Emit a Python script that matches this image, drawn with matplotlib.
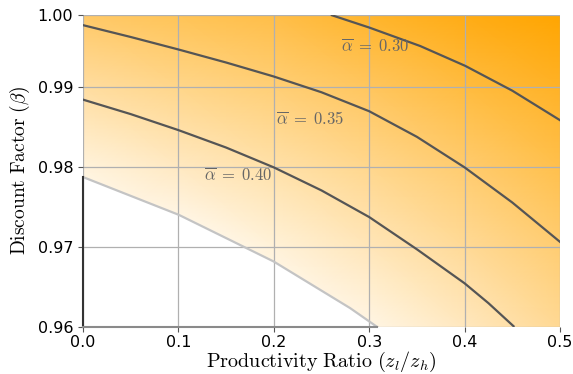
import numpy as np
import matplotlib
matplotlib.use("Agg")
import matplotlib.pyplot as plt
from matplotlib.colors import LinearSegmentedColormap, Normalize

plt.rcParams['mathtext.fontset'] = 'cm'

# grid of alpha-bar values
z_ratio = [0.0, 0.1, 0.2, 0.3, 0.4, 0.5]
beta = [0.96, 0.97, 0.98, 0.99, 0.999]
alpha_bar = [
    [0.547, 0.516, 0.485, 0.452, 0.419, 0.382],
    [0.495, 0.469, 0.442, 0.414, 0.384, 0.352],
    [0.444, 0.422, 0.400, 0.376, 0.350, 0.319],
    [0.392, 0.373, 0.356, 0.335, 0.309, 0.286],
    [0.343, 0.329, 0.316, 0.292, 0.272, 0.253],
]

# contour lines (z ratio, beta)
c30_x = [0.2609, 0.3003, 0.3535, 0.4007, 0.45, 0.5]
c30_b = [0.99897, 0.99742, 0.99512, 0.99264, 0.98954, 0.98585]
c35_x = [0.0, 0.05, 0.1, 0.15, 0.2, 0.25, 0.3, 0.35, 0.4, 0.45, 0.5]
c35_b = [0.99773, 0.99625, 0.99469, 0.99306, 0.99131, 0.98934, 0.98697,
         0.98377, 0.97995, 0.97556, 0.97064]
c40_x = [0.0, 0.05, 0.1, 0.15, 0.2, 0.25, 0.3, 0.35, 0.4, 0.425, 0.4513]
c40_b = [0.98842, 0.98661, 0.98461, 0.98243, 0.97995, 0.97707, 0.97374,
         0.96971, 0.96546, 0.96298, 0.9601]

# edge of the region with no solution
edge_x = [0.0, 0.1004, 0.1998, 0.28, 0.3084]
edge_b = [0.97874, 0.97402, 0.96819, 0.96236, 0.96]

labels = [r'$\overline{\alpha}\;=\;0.30$', r'$\overline{\alpha}\;=\;0.35$', r'$\overline{\alpha}\;=\;0.40$']
label_x = [0.270, 0.202, 0.127]
label_b = [0.9950, 0.9859, 0.9789]

yticks = [0.96, 0.97, 0.98, 0.99, 0.999]
yticklabels = ['0.96', '0.97', '0.98', '0.99', '1.00']

fig = plt.figure(figsize=(5.73, 3.74), dpi=100)
ax = fig.add_axes([0.1449, 0.1257, 0.9773 - 0.1449, 0.9599 - 0.1257])

cmap = LinearSegmentedColormap.from_list('wo', ['orange', 'white'])
X, Y = np.meshgrid(z_ratio, beta)
ax.pcolormesh(X, Y, np.array(alpha_bar), shading='gouraud', cmap=cmap,
              norm=Normalize(0.253, 0.475), zorder=1)
# no-solution region stays blank
ax.fill_between(edge_x, edge_b, beta[0], color='white', lw=0, zorder=1.5)

for sp in ax.spines.values():
    sp.set_visible(False)

ax.set_axisbelow(False)
ax.grid(True, color='#b0b0b0', lw=0.9)

lc = '#555555'
ax.plot(c30_x, c30_b, color=lc, lw=1.6, zorder=3)
ax.plot(c35_x, c35_b, color=lc, lw=1.6, zorder=3)
ax.plot(c40_x, c40_b, color=lc, lw=1.6, zorder=3)

ax.plot(edge_x, edge_b, color='#c4c4c4', lw=1.6, zorder=3)
ax.plot([0, 0], [beta[0], edge_b[0]], color='#333333', lw=1.5, zorder=3, clip_on=False)
ax.plot([0, edge_x[-1]], [beta[0], beta[0]], color='#8a8a8a', lw=1.5, zorder=3, clip_on=False)

for s, x, y in zip(labels, label_x, label_b):
    ax.text(x, y, s, fontsize=12, color='#666666', ha='left', va='center', zorder=4)

ax.set_xlim(0, 0.5)
ax.set_ylim(0.96, 0.999)
ax.set_xticks([0.0, 0.1, 0.2, 0.3, 0.4, 0.5])
ax.set_yticks(yticks)
ax.set_yticklabels(yticklabels)
ax.tick_params(labelsize=11.5, color='#555555')
ax.tick_params(axis='x', pad=2.5)

ax.set_xlabel(r'$\mathrm{Productivity\ Ratio}\ (z_l/z_h)$', fontsize=14.5, labelpad=0)
ax.set_ylabel(r'$\mathrm{Discount\ Factor}\ (\beta)$', fontsize=14, labelpad=4)

fig.savefig('out.png', dpi=100)
